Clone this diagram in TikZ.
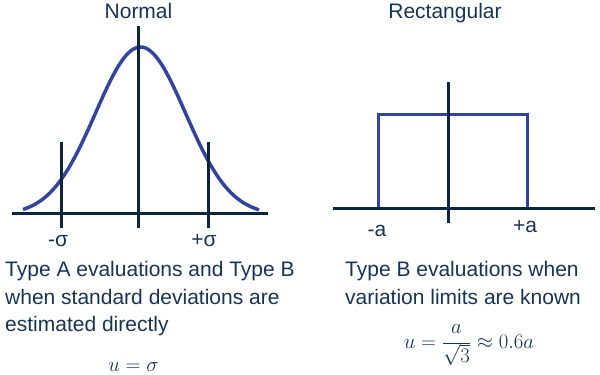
\documentclass[tikz,border=0pt]{standalone}
\usepackage{fontspec}
\setmainfont{Liberation Sans}
\definecolor{axis}{RGB}{12, 38, 64}
\definecolor{curve}{RGB}{52, 68, 158}
\definecolor{txt}{RGB}{24, 52, 84}
\usepackage{tikz}
\usetikzlibrary{positioning, calc}

\begin{document}
\begin{tikzpicture}[
            x=1pt, y=-1pt,
            axisline/.style={draw=axis, line width=3pt},
            distline/.style={draw=curve, line width=3.5pt, line join=round},
            rectline/.style={draw=curve, line width=3pt},
            lbl/.style={text=txt, inner sep=0pt, font=\fontsize{21}{27.5}\selectfont},
            note/.style={lbl, align=left, anchor=north west}
        ]
            \useasboundingbox (0,0) rectangle (600,375);
            \draw[distline] plot[domain=23:259, samples=90, smooth] (\x, {215-168*exp(-((\x-140.5)*(\x-140.5))/4050)});
            \draw[axisline] (12,213) -- (268,213);
            \draw[axisline] (138,26) -- (138,228);
            \draw[axisline] (61,142) -- (61,228);
            \draw[axisline] (208,142) -- (208,228);
            \draw[rectline] (378,208) |- (527,114) -- (527,208);
            \draw[axisline] (333,208) -- (595,208);
            \draw[axisline] (448,82) -- (448,223);
            \node[lbl, anchor=base] (normal) at (138.5,18) {Normal};
            \node[lbl, anchor=base] (rect) at (445,18) {Rectangular};
            \node[lbl, anchor=base] (msig) at (58,246) {-σ};
            \node[lbl, anchor=base] (psig) at (204,246) {+σ};
            \node[lbl, anchor=base] (ma) at (377,236) {-a};
            \node[lbl, anchor=base] (pa) at (525,232) {+a};
            \node[note] (typea) at (5,261.5) {Type A evaluations and Type B\\when standard deviations are\\estimated directly};
            \node[note] (typeb) at (345,261.5) {Type B evaluations when\\variation limits are known};
            \node[lbl, anchor=base] (unorm) at (133.5,371) {$u=\sigma$};
            \node[lbl, anchor=base] (urect) at (469,348) {$u=\displaystyle\frac{a}{\sqrt{3}}\approx 0.6a$};
        \end{tikzpicture}
\end{document}
